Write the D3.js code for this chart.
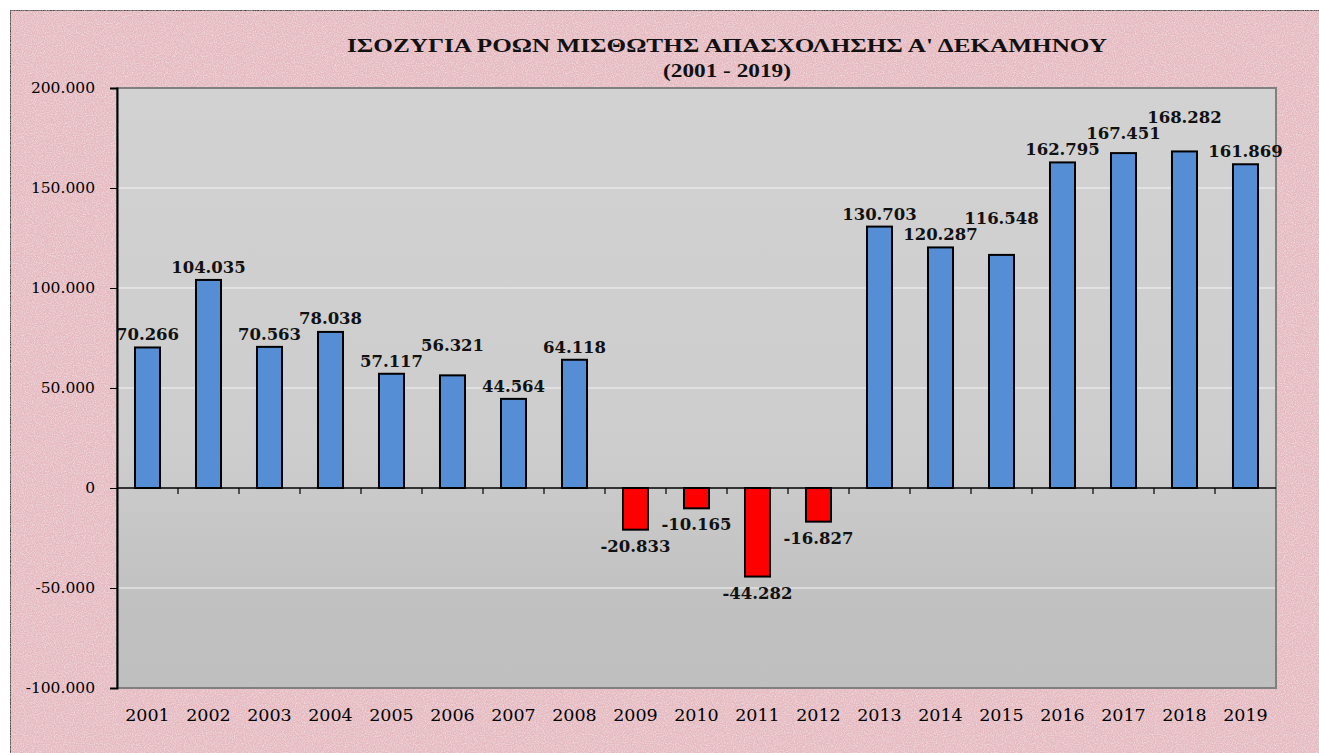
<!DOCTYPE html>
<html>
<head>
<meta charset="utf-8">
<script src="https://cdn.jsdelivr.net/npm/d3@7"></script>
<style>
  html, body { margin: 0; padding: 0; background: #fff; overflow: hidden; }
</style>
</head>
<body>
<div id="chart"></div>
<script>
(function () {
  'use strict';

  // data
  var years = ['2001', '2002', '2003', '2004', '2005', '2006', '2007', '2008', '2009', '2010',
    '2011', '2012', '2013', '2014', '2015', '2016', '2017', '2018', '2019'];
  var balance = [70266, 104035, 70563, 78038, 57117, 56321, 44564, 64118, -20833, -10165,
    -44282, -16827, 130703, 120287, 116548, 162795, 167451, 168282, 161869];
  var yTicks = [-100000, -50000, 0, 50000, 100000, 150000, 200000];
  var titleLines = ['ΙΣΟΖΥΓΙΑ ΡΟΩΝ ΜΙΣΘΩΤΗΣ ΑΠΑΣΧΟΛΗΣΗΣ Α\' ΔΕΚΑΜΗΝΟΥ', '(2001 - 2019)'];

  var W = 1319, H = 753;
  var margin = { top: 88, left: 117, right: 1319 - 1276, bottom: 753 - 688 };
  var iw = W - margin.left - margin.right;
  var ih = H - margin.top - margin.bottom;

  // Greek style number format: 70.266, plain hyphen for minus
  var fmt = function (v) {
    return d3.format(',')(v).replace(/,/g, '.').replace('\u2212', '-');
  };

  var svg = d3.select('#chart').append('svg').attr('width', W).attr('height', H);
  var defs = svg.append('defs');

  // pink paper texture
  var filt = defs.append('filter').attr('id', 'paper').attr('x', 0).attr('y', 0).attr('width', '100%').attr('height', '100%');
  filt.append('feTurbulence').attr('type', 'fractalNoise').attr('baseFrequency', 0.9).attr('numOctaves', 2).attr('seed', 3).attr('result', 'n');
  filt.append('feColorMatrix').attr('in', 'n').attr('type', 'matrix')
    .attr('values', '0 0 0 0 1  0 0 0 0 1  0 0 0 0 1  0 0 0 0.9 -0.35').attr('result', 'speck');
  filt.append('feComposite').attr('in', 'speck').attr('in2', 'SourceGraphic').attr('operator', 'atop');

  var grad = defs.append('linearGradient').attr('id', 'plotbg').attr('x1', 0).attr('y1', 0).attr('x2', 0).attr('y2', 1);
  grad.append('stop').attr('offset', '0%').attr('stop-color', '#d2d2d2');
  grad.append('stop').attr('offset', '60%').attr('stop-color', '#cdcdcd');
  grad.append('stop').attr('offset', '85%').attr('stop-color', '#c1c1c1');
  grad.append('stop').attr('offset', '100%').attr('stop-color', '#bfbfbf');

  svg.append('rect').attr('x', 10).attr('y', 10).attr('width', 1400).attr('height', 800)
    .attr('fill', '#e5b9c0').attr('stroke', '#222').attr('stroke-width', 1.5)
    .attr('filter', 'url(#paper)');

  // title (the original is stretched wide, so fit it to its measured width)
  var titleWidths = [760, 128];
  svg.append('g').selectAll('text').data(titleLines).enter().append('text')
    .attr('x', 727).attr('y', function (d, i) { return 52 + i * 25; })
    .attr('text-anchor', 'middle')
    .attr('font-family', '"Liberation Serif", serif').attr('font-weight', 'bold')
    .attr('font-size', 19).attr('fill', '#111')
    .attr('textLength', function (d, i) { return titleWidths[i]; })
    .attr('lengthAdjust', 'spacingAndGlyphs')
    .text(function (d) { return d; });

  var x = d3.scaleBand().domain(years).range([0, iw]).paddingInner(0.59).paddingOuter(0.295);
  var xb = d3.scaleBand().domain(years).range([0, iw]);
  var y = d3.scaleLinear().domain([-100000, 200000]).range([ih, 0]);

  var g = svg.append('g').attr('transform', 'translate(' + margin.left + ',' + margin.top + ')');

  g.append('rect').attr('width', iw).attr('height', ih).attr('fill', 'url(#plotbg)');

  // gridlines
  g.append('g').selectAll('line').data(yTicks.filter(function (t) { return t !== 0 && t !== 200000 && t !== -100000; }))
    .enter().append('line')
    .attr('x1', 0).attr('x2', iw).attr('y1', function (d) { return y(d); }).attr('y2', function (d) { return y(d); })
    .attr('stroke', '#f4f4f4').attr('stroke-width', 1);

  // plot border (gray)
  g.append('rect').attr('width', iw).attr('height', ih).attr('fill', 'none')
    .attr('stroke', '#808080').attr('stroke-width', 2);

  // bars
  g.append('g').selectAll('rect').data(balance).enter().append('rect')
    .attr('x', function (d, i) { return x(years[i]); })
    .attr('width', x.bandwidth())
    .attr('y', function (d) { return y(Math.max(0, d)); })
    .attr('height', function (d) { return Math.abs(y(d) - y(0)); })
    .attr('fill', function (d) { return d < 0 ? '#ff0000' : '#558ed5'; })
    .attr('stroke', '#000').attr('stroke-width', 2);

  // y axis
  var yAxis = g.append('g').call(d3.axisLeft(y).tickValues(yTicks).tickSize(7).tickPadding(15).tickFormat(fmt));
  yAxis.select('.domain').attr('stroke', '#000').attr('stroke-width', 2);
  yAxis.selectAll('.tick line').attr('stroke', '#000');
  yAxis.selectAll('text').attr('font-family', '"DejaVu Serif", serif').attr('font-size', 15.5).attr('fill', '#000');

  // x axis on zero line, ticks at category boundaries
  var zx = g.append('g').attr('transform', 'translate(0,' + y(0) + ')');
  zx.append('line').attr('x1', 0).attr('x2', iw).attr('stroke', '#000').attr('stroke-width', 1.5);
  zx.selectAll('.tk').data(years.slice(1)).enter().append('line').attr('class', 'tk')
    .attr('x1', function (d) { return xb(d); }).attr('x2', function (d) { return xb(d); })
    .attr('y1', 0).attr('y2', 6).attr('stroke', '#000').attr('stroke-width', 1.2);

  // category labels at bottom
  g.append('g').selectAll('text').data(years).enter().append('text')
    .attr('x', function (d) { return xb(d) + xb.bandwidth() / 2; })
    .attr('y', ih + 33)
    .attr('text-anchor', 'middle')
    .attr('font-family', '"DejaVu Serif", serif').attr('font-size', 17.5).attr('fill', '#000')
    .text(function (d) { return d; });

  // value labels
  var labels = g.append('g').selectAll('text').data(balance).enter().append('text')
    .attr('x', function (d, i) { return x(years[i]) + x.bandwidth() / 2; })
    .attr('y', function (d) { return d < 0 ? y(d) + 22 : y(d) - 7; })
    .attr('text-anchor', 'middle')
    .attr('font-family', '"DejaVu Serif", serif').attr('font-weight', 'bold')
    .attr('font-size', 16.5).attr('fill', '#111')
    .text(function (d) { return fmt(d); });

  // nudge positive labels upward when they would run into the previous one
  var placed = [];
  labels.each(function (d) {
    var el = d3.select(this);
    var bb = this.getBBox();
    var box = { x0: bb.x, x1: bb.x + bb.width, y0: bb.y + 3, y1: bb.y + bb.height - 3 };
    if (d > 0) {
      placed.forEach(function (p) {
        if (box.x0 < p.x1 && box.x1 > p.x0 && box.y0 < p.y1 + 2 && box.y1 > p.y0 - 2) {
          var shift = box.y1 - (p.y0 - 3);
          box.y0 -= shift; box.y1 -= shift;
          el.attr('y', +el.attr('y') - shift);
        }
      });
    }
    placed.push(box);
  });
})();
</script>
</body>
</html>
